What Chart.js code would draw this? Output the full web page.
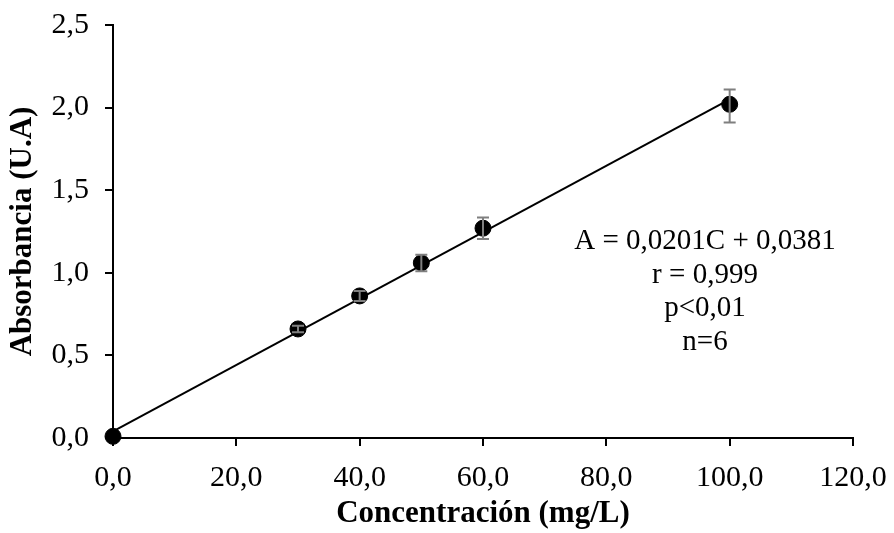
<!DOCTYPE html>
<html lang="es">
<head>
    <meta charset="UTF-8">
    <title>Curva de calibración</title>
    <script src="https://cdn.jsdelivr.net/npm/chart.js"></script>
    <style>
        body { margin: 0; background: #ffffff; }
        #wrap { width: 894px; height: 533px; }
    </style>
</head>
<body>
    <div id="wrap"><canvas id="calChart" width="894" height="533"></canvas></div>

    <script>
        // data
        const concentration = [0, 30, 40, 50, 60, 100];
        const absorbance = [0.01, 0.66, 0.86, 1.06, 1.27, 2.02];
        const errUp = [0.0, 0.02, 0.03, 0.05, 0.065, 0.09];
        const errDown = [0.0, 0.02, 0.03, 0.05, 0.065, 0.11];
        const trendX = [0, 100];
        const trendY = [0.04, 2.05];
        const eqLines = ["A = 0,0201C + 0,0381", "r = 0,999", "p<0,01", "n=6"];

        const serif = "'Liberation Serif', 'Times New Roman', serif";

        function fmt(v) {
            return v.toFixed(1).replace('.', ',');
        }

        // vertical error bars with caps
        const errorBars = {
            id: 'errorBars',
            afterDatasetsDraw(chart) {
                const ctx = chart.ctx;
                const xs = chart.scales.x, ys = chart.scales.y;
                ctx.save();
                ctx.strokeStyle = '#7f7f7f';
                ctx.lineWidth = 2;
                concentration.forEach((c, i) => {
                    if (!errUp[i] && !errDown[i]) return;
                    const px = xs.getPixelForValue(c);
                    const top = ys.getPixelForValue(absorbance[i] + errUp[i]);
                    const bot = ys.getPixelForValue(absorbance[i] - errDown[i]);
                    ctx.beginPath();
                    ctx.moveTo(px, top); ctx.lineTo(px, bot);
                    ctx.moveTo(px - 6, top); ctx.lineTo(px + 6, top);
                    ctx.moveTo(px - 6, bot); ctx.lineTo(px + 6, bot);
                    ctx.stroke();
                });
                ctx.restore();
            }
        };

        // regression text
        const equationText = {
            id: 'equationText',
            afterDraw(chart) {
                const ctx = chart.ctx;
                const xs = chart.scales.x, ys = chart.scales.y;
                ctx.save();
                ctx.fillStyle = '#000';
                ctx.textAlign = 'center';
                ctx.textBaseline = 'middle';
                ctx.font = "29px " + serif;
                const cx = xs.getPixelForValue(96);
                let cy = ys.getPixelForValue(1.19);
                eqLines.forEach(line => {
                    ctx.fillText(line, cx, cy);
                    cy += 33.5;
                });
                ctx.restore();
            }
        };

        const ctx = document.getElementById("calChart").getContext("2d");
        new Chart(ctx, {
            type: 'scatter',
            data: {
                datasets: [
                    {
                        label: 'Tendencia',
                        type: 'line',
                        data: trendX.map((x, i) => ({ x: x, y: trendY[i] })),
                        borderColor: '#000',
                        borderWidth: 2,
                        pointRadius: 0,
                        fill: false,
                        clip: false,
                        order: 2
                    },
                    {
                        label: 'Absorbancia',
                        data: concentration.map((x, i) => ({ x: x, y: absorbance[i] })),
                        backgroundColor: '#000',
                        borderColor: '#000',
                        pointRadius: 8,
                        clip: false,
                        order: 1
                    }
                ]
            },
            options: {
                responsive: false,
                animation: false,
                layout: { padding: { top: 25, right: 41, left: 0, bottom: 0 } },
                plugins: {
                    legend: { display: false },
                    tooltip: { enabled: false }
                },
                scales: {
                    x: {
                        type: 'linear',
                        min: 0,
                        max: 120,
                        ticks: {
                            stepSize: 20,
                            color: '#000',
                            font: { family: serif, size: 30 },
                            padding: 14,
                            maxRotation: 0,
                            callback: v => fmt(v)
                        },
                        grid: { drawOnChartArea: false, tickLength: 8, color: '#000', lineWidth: 2 },
                        border: { color: '#000', width: 2 },
                        title: {
                            display: true,
                            text: 'Concentración (mg/L)',
                            color: '#000',
                            font: { family: serif, size: 31, weight: 'bold' },
                            padding: { top: 0, bottom: 0 }
                        },
                        afterFit: s => {
                            s.height = 95;
                            s.paddingLeft = 0;
                            s.paddingRight = 0;
                        }
                    },
                    y: {
                        min: 0,
                        max: 2.5,
                        ticks: {
                            stepSize: 0.5,
                            color: '#000',
                            font: { family: serif, size: 30 },
                            padding: 16,
                            callback: v => fmt(v)
                        },
                        grid: { drawOnChartArea: false, tickLength: 8, color: '#000', lineWidth: 2 },
                        border: { color: '#000', width: 2 },
                        title: {
                            display: true,
                            text: 'Absorbancia (U.A)',
                            color: '#000',
                            font: { family: serif, size: 31, weight: 'bold' },
                            padding: { bottom: 0 }
                        },
                        afterFit: s => {
                            s.width = 113;
                            s.paddingTop = 0;
                            s.paddingBottom = 0;
                        }
                    }
                }
            },
            plugins: [errorBars, equationText]
        });
    </script>
</body>
</html>
